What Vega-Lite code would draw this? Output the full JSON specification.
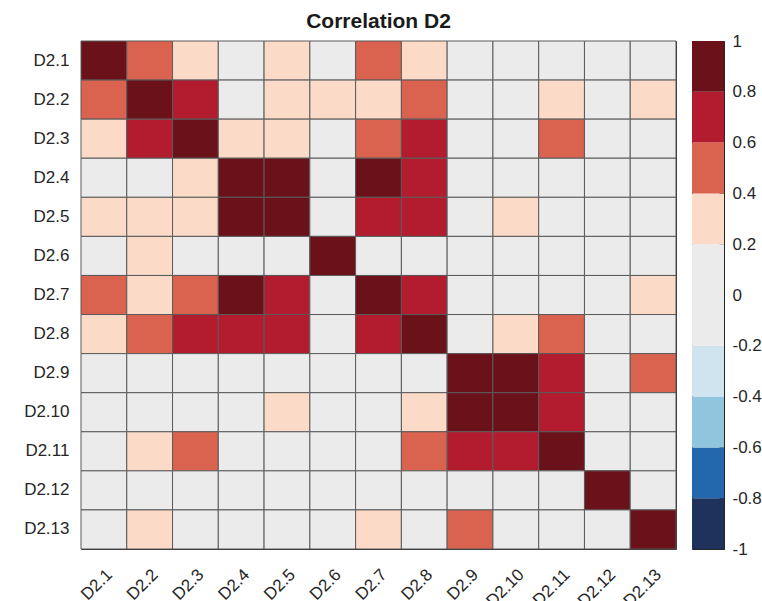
{
  "$schema": "https://vega.github.io/schema/vega-lite/v6.json",
  "background": "white",
  "padding": {"left": 5, "top": 9, "right": 5, "bottom": 5},
  "bounds": "flush",
  "spacing": 16,
  "config": {
    "font": "Liberation Sans",
    "view": {"stroke": "#262626", "strokeWidth": 1},
    "axis": {"labelColor": "#262626", "labelFontSize": 17, "labelFont": "Liberation Sans"}
  },
  "resolve": {"scale": {"color": "independent"}},
  "datasets": {
    "corr": [
      {"row":"D2.1","col":"D2.1","r":1},{"row":"D2.1","col":"D2.2","r":0.52},{"row":"D2.1","col":"D2.3","r":0.31},{"row":"D2.1","col":"D2.4","r":0.12},{"row":"D2.1","col":"D2.5","r":0.24},{"row":"D2.1","col":"D2.6","r":-0.03},{"row":"D2.1","col":"D2.7","r":0.45},{"row":"D2.1","col":"D2.8","r":0.33},{"row":"D2.1","col":"D2.9","r":0.05},{"row":"D2.1","col":"D2.10","r":0.02},{"row":"D2.1","col":"D2.11","r":0.08},{"row":"D2.1","col":"D2.12","r":-0.06},{"row":"D2.1","col":"D2.13","r":0.04},
      {"row":"D2.2","col":"D2.1","r":0.52},{"row":"D2.2","col":"D2.2","r":1},{"row":"D2.2","col":"D2.3","r":0.72},{"row":"D2.2","col":"D2.4","r":0.15},{"row":"D2.2","col":"D2.5","r":0.27},{"row":"D2.2","col":"D2.6","r":0.22},{"row":"D2.2","col":"D2.7","r":0.36},{"row":"D2.2","col":"D2.8","r":0.55},{"row":"D2.2","col":"D2.9","r":0.07},{"row":"D2.2","col":"D2.10","r":0.10},{"row":"D2.2","col":"D2.11","r":0.26},{"row":"D2.2","col":"D2.12","r":0.01},{"row":"D2.2","col":"D2.13","r":0.23},
      {"row":"D2.3","col":"D2.1","r":0.31},{"row":"D2.3","col":"D2.2","r":0.72},{"row":"D2.3","col":"D2.3","r":1},{"row":"D2.3","col":"D2.4","r":0.34},{"row":"D2.3","col":"D2.5","r":0.38},{"row":"D2.3","col":"D2.6","r":0.11},{"row":"D2.3","col":"D2.7","r":0.58},{"row":"D2.3","col":"D2.8","r":0.66},{"row":"D2.3","col":"D2.9","r":0.13},{"row":"D2.3","col":"D2.10","r":0.16},{"row":"D2.3","col":"D2.11","r":0.47},{"row":"D2.3","col":"D2.12","r":-0.02},{"row":"D2.3","col":"D2.13","r":0.09},
      {"row":"D2.4","col":"D2.1","r":0.12},{"row":"D2.4","col":"D2.2","r":0.15},{"row":"D2.4","col":"D2.3","r":0.34},{"row":"D2.4","col":"D2.4","r":1},{"row":"D2.4","col":"D2.5","r":0.95},{"row":"D2.4","col":"D2.6","r":0.06},{"row":"D2.4","col":"D2.7","r":0.88},{"row":"D2.4","col":"D2.8","r":0.74},{"row":"D2.4","col":"D2.9","r":0.03},{"row":"D2.4","col":"D2.10","r":0.14},{"row":"D2.4","col":"D2.11","r":0.17},{"row":"D2.4","col":"D2.12","r":-0.08},{"row":"D2.4","col":"D2.13","r":0.10},
      {"row":"D2.5","col":"D2.1","r":0.24},{"row":"D2.5","col":"D2.2","r":0.27},{"row":"D2.5","col":"D2.3","r":0.38},{"row":"D2.5","col":"D2.4","r":0.95},{"row":"D2.5","col":"D2.5","r":1},{"row":"D2.5","col":"D2.6","r":0.08},{"row":"D2.5","col":"D2.7","r":0.79},{"row":"D2.5","col":"D2.8","r":0.69},{"row":"D2.5","col":"D2.9","r":0.09},{"row":"D2.5","col":"D2.10","r":0.21},{"row":"D2.5","col":"D2.11","r":0.18},{"row":"D2.5","col":"D2.12","r":-0.04},{"row":"D2.5","col":"D2.13","r":0.12},
      {"row":"D2.6","col":"D2.1","r":-0.03},{"row":"D2.6","col":"D2.2","r":0.22},{"row":"D2.6","col":"D2.3","r":0.11},{"row":"D2.6","col":"D2.4","r":0.06},{"row":"D2.6","col":"D2.5","r":0.08},{"row":"D2.6","col":"D2.6","r":1},{"row":"D2.6","col":"D2.7","r":0.05},{"row":"D2.6","col":"D2.8","r":0.13},{"row":"D2.6","col":"D2.9","r":-0.05},{"row":"D2.6","col":"D2.10","r":0.0},{"row":"D2.6","col":"D2.11","r":0.04},{"row":"D2.6","col":"D2.12","r":0.06},{"row":"D2.6","col":"D2.13","r":-0.01},
      {"row":"D2.7","col":"D2.1","r":0.45},{"row":"D2.7","col":"D2.2","r":0.36},{"row":"D2.7","col":"D2.3","r":0.58},{"row":"D2.7","col":"D2.4","r":0.88},{"row":"D2.7","col":"D2.5","r":0.79},{"row":"D2.7","col":"D2.6","r":0.05},{"row":"D2.7","col":"D2.7","r":1},{"row":"D2.7","col":"D2.8","r":0.77},{"row":"D2.7","col":"D2.9","r":0.07},{"row":"D2.7","col":"D2.10","r":0.15},{"row":"D2.7","col":"D2.11","r":0.19},{"row":"D2.7","col":"D2.12","r":-0.07},{"row":"D2.7","col":"D2.13","r":0.25},
      {"row":"D2.8","col":"D2.1","r":0.33},{"row":"D2.8","col":"D2.2","r":0.55},{"row":"D2.8","col":"D2.3","r":0.66},{"row":"D2.8","col":"D2.4","r":0.74},{"row":"D2.8","col":"D2.5","r":0.69},{"row":"D2.8","col":"D2.6","r":0.13},{"row":"D2.8","col":"D2.7","r":0.77},{"row":"D2.8","col":"D2.8","r":1},{"row":"D2.8","col":"D2.9","r":0.11},{"row":"D2.8","col":"D2.10","r":0.28},{"row":"D2.8","col":"D2.11","r":0.46},{"row":"D2.8","col":"D2.12","r":0.02},{"row":"D2.8","col":"D2.13","r":0.14},
      {"row":"D2.9","col":"D2.1","r":0.05},{"row":"D2.9","col":"D2.2","r":0.07},{"row":"D2.9","col":"D2.3","r":0.13},{"row":"D2.9","col":"D2.4","r":0.03},{"row":"D2.9","col":"D2.5","r":0.09},{"row":"D2.9","col":"D2.6","r":-0.05},{"row":"D2.9","col":"D2.7","r":0.07},{"row":"D2.9","col":"D2.8","r":0.11},{"row":"D2.9","col":"D2.9","r":1},{"row":"D2.9","col":"D2.10","r":0.93},{"row":"D2.9","col":"D2.11","r":0.73},{"row":"D2.9","col":"D2.12","r":0.05},{"row":"D2.9","col":"D2.13","r":0.43},
      {"row":"D2.10","col":"D2.1","r":0.02},{"row":"D2.10","col":"D2.2","r":0.10},{"row":"D2.10","col":"D2.3","r":0.16},{"row":"D2.10","col":"D2.4","r":0.14},{"row":"D2.10","col":"D2.5","r":0.21},{"row":"D2.10","col":"D2.6","r":0.0},{"row":"D2.10","col":"D2.7","r":0.15},{"row":"D2.10","col":"D2.8","r":0.28},{"row":"D2.10","col":"D2.9","r":0.93},{"row":"D2.10","col":"D2.10","r":1},{"row":"D2.10","col":"D2.11","r":0.71},{"row":"D2.10","col":"D2.12","r":0.03},{"row":"D2.10","col":"D2.13","r":0.16},
      {"row":"D2.11","col":"D2.1","r":0.08},{"row":"D2.11","col":"D2.2","r":0.26},{"row":"D2.11","col":"D2.3","r":0.47},{"row":"D2.11","col":"D2.4","r":0.17},{"row":"D2.11","col":"D2.5","r":0.18},{"row":"D2.11","col":"D2.6","r":0.04},{"row":"D2.11","col":"D2.7","r":0.19},{"row":"D2.11","col":"D2.8","r":0.46},{"row":"D2.11","col":"D2.9","r":0.73},{"row":"D2.11","col":"D2.10","r":0.71},{"row":"D2.11","col":"D2.11","r":1},{"row":"D2.11","col":"D2.12","r":0.07},{"row":"D2.11","col":"D2.13","r":0.12},
      {"row":"D2.12","col":"D2.1","r":-0.06},{"row":"D2.12","col":"D2.2","r":0.01},{"row":"D2.12","col":"D2.3","r":-0.02},{"row":"D2.12","col":"D2.4","r":-0.08},{"row":"D2.12","col":"D2.5","r":-0.04},{"row":"D2.12","col":"D2.6","r":0.06},{"row":"D2.12","col":"D2.7","r":-0.07},{"row":"D2.12","col":"D2.8","r":0.02},{"row":"D2.12","col":"D2.9","r":0.05},{"row":"D2.12","col":"D2.10","r":0.03},{"row":"D2.12","col":"D2.11","r":0.07},{"row":"D2.12","col":"D2.12","r":1},{"row":"D2.12","col":"D2.13","r":0.10},
      {"row":"D2.13","col":"D2.1","r":0.04},{"row":"D2.13","col":"D2.2","r":0.23},{"row":"D2.13","col":"D2.3","r":0.09},{"row":"D2.13","col":"D2.4","r":0.10},{"row":"D2.13","col":"D2.5","r":0.12},{"row":"D2.13","col":"D2.6","r":-0.01},{"row":"D2.13","col":"D2.7","r":0.25},{"row":"D2.13","col":"D2.8","r":0.14},{"row":"D2.13","col":"D2.9","r":0.43},{"row":"D2.13","col":"D2.10","r":0.16},{"row":"D2.13","col":"D2.11","r":0.12},{"row":"D2.13","col":"D2.12","r":0.10},{"row":"D2.13","col":"D2.13","r":1}
    ],
    "bar": [
      {"lo":-1,"hi":-0.8,"mid":-0.9},{"lo":-0.8,"hi":-0.6,"mid":-0.7},{"lo":-0.6,"hi":-0.4,"mid":-0.5},{"lo":-0.4,"hi":-0.2,"mid":-0.3},{"lo":-0.2,"hi":0,"mid":-0.1},
      {"lo":0,"hi":0.2,"mid":0.1},{"lo":0.2,"hi":0.4,"mid":0.3},{"lo":0.4,"hi":0.6,"mid":0.5},{"lo":0.6,"hi":0.8,"mid":0.7},{"lo":0.8,"hi":1,"mid":0.9}
    ]
  },
  "hconcat": [
    {
      "title": {"text": "Correlation D2", "fontSize": 21, "fontWeight": "bold", "color": "#1a1a1a", "font": "Liberation Sans", "anchor": "middle", "frame": "group", "offset": -8, "baseline": "alphabetic"},
      "width": 595,
      "height": 508,
      "data": {"name": "corr"},
      "mark": {"type": "rect", "stroke": "#5a5a5a", "strokeWidth": 1},
      "encoding": {
        "x": {"field": "col", "type": "ordinal",
          "sort": ["D2.1","D2.2","D2.3","D2.4","D2.5","D2.6","D2.7","D2.8","D2.9","D2.10","D2.11","D2.12","D2.13"],
          "scale": {"paddingInner": 0, "paddingOuter": 0},
          "axis": {"title": null, "labelAngle": -45, "labelAlign": "right", "labelBaseline": "top", "labelPadding": 17, "ticks": false, "domain": false}},
        "y": {"field": "row", "type": "ordinal",
          "sort": ["D2.1","D2.2","D2.3","D2.4","D2.5","D2.6","D2.7","D2.8","D2.9","D2.10","D2.11","D2.12","D2.13"],
          "scale": {"paddingInner": 0, "paddingOuter": 0},
          "axis": {"title": null, "ticks": false, "domain": false, "labelPadding": 12, "minExtent": 75, "maxExtent": 75}},
        "color": {"field": "r", "type": "quantitative",
          "scale": {"type": "threshold", "domain": [-0.8,-0.6,-0.4,-0.2,0,0.2,0.4,0.6,0.8],
            "range": ["#1f325c","#2367ad","#91c4dd","#d0e4ef","#ebebeb","#ebebeb","#fbdac8","#d9634f","#b31b2e","#6a111a"]},
          "legend": null}
      }
    },
    {
      "width": 32,
      "height": 508,
      "data": {"name": "bar"},
      "mark": {"type": "rect"},
      "encoding": {
        "y": {"field": "lo", "type": "quantitative",
          "scale": {"domain": [-1, 1], "nice": false, "zero": false},
          "axis": {"orient": "right", "title": null, "grid": false, "domain": false,
            "values": [-1,-0.8,-0.6,-0.4,-0.2,0,0.2,0.4,0.6,0.8,1],
            "labelExpr": "datum.value == 0 ? '0' : (datum.value < 0 ? '-' : '') + format(abs(datum.value), '')",
            "tickSize": -5, "tickColor": "#262626", "labelPadding": 13, "labelFlush": false}},
        "y2": {"field": "hi"},
        "color": {"field": "mid", "type": "quantitative",
          "scale": {"type": "threshold", "domain": [-0.8,-0.6,-0.4,-0.2,0,0.2,0.4,0.6,0.8],
            "range": ["#1f325c","#2367ad","#91c4dd","#d0e4ef","#ebebeb","#ebebeb","#fbdac8","#d9634f","#b31b2e","#6a111a"]},
          "legend": null}
      }
    }
  ]
}
